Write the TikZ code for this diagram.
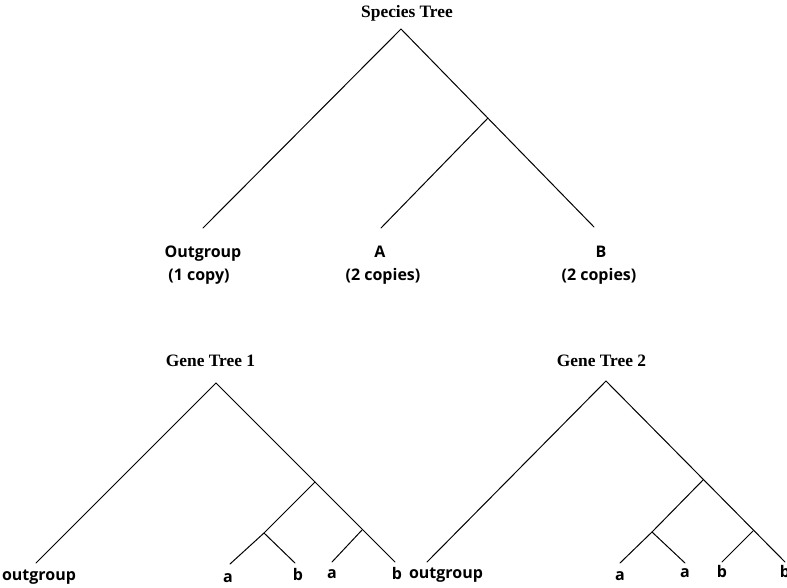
\documentclass[tikz,border=0pt]{standalone}
\usepackage{fontspec}
\setmainfont{Liberation Serif}
\newfontfamily\labfont{Open Sans}
\begin{document}
\begin{tikzpicture}[x=1pt,y=-1pt,
  branch/.style={line width=1pt,line cap=round},
  title/.style={font=\fontsize{17.4}{20}\selectfont\bfseries,anchor=base,inner sep=0pt},
  taxon/.style={font=\labfont\fontsize{16}{22}\selectfont\bfseries,anchor=base,inner sep=0pt,align=center}]
\useasboundingbox (0,0) rectangle (787,587);
% Species tree
\node[title] (st) at (407,17) {Species Tree};
\coordinate (s0) at (401,29);
\coordinate (s1) at (488,118);
\coordinate (sOut) at (203,228);
\coordinate (sA) at (381,228);
\coordinate (sB) at (594,227);
\draw[branch] (sOut) -- (s0) -- (sB);
\draw[branch] (s1) -- (sA);
\node[taxon] (lOut) at (203,257) {Outgroup};
\node[taxon] (lOutc) at (199,280) {(1 copy)};
\node[taxon] (lA) at (380,257) {A};
\node[taxon] (lAc) at (383,280) {(2 copies)};
\node[taxon] (lB) at (601,257) {B};
\node[taxon] (lBc) at (599,280) {(2 copies)};
% Gene tree 1
\node[title] (g1) at (210.5,366) {Gene Tree 1};
\coordinate (r1) at (216,383);
\coordinate (n1) at (315,482);
\coordinate (n2) at (264,533);
\coordinate (n3) at (362,530);
\coordinate (o1) at (36,563);
\coordinate (a11) at (230,564);
\coordinate (b11) at (295,563);
\coordinate (a12) at (332,562);
\coordinate (b12) at (395,562);
\draw[branch] (o1) -- (r1) -- (b12);
\draw[branch] (n1) -- (n2) -- (a11);
\draw[branch] (n2) -- (b11);
\draw[branch] (n3) -- (a12);
\node[taxon] (t1o) at (39,580) {outgroup};
\node[taxon] (t1a) at (228,582) {a};
\node[taxon] (t1b) at (298,580) {b};
\node[taxon] (t1a2) at (332,578) {a};
\node[taxon] (t1b2) at (397,579) {b};
% Gene tree 2
\node[title] (g2) at (601.5,366) {Gene Tree 2};
\coordinate (r2) at (606,381);
\coordinate (m1) at (703,480);
\coordinate (m2) at (652,532);
\coordinate (m3) at (753,531);
\coordinate (o2) at (427,562);
\coordinate (a21) at (620,563);
\coordinate (a22) at (685,563);
\coordinate (b21) at (722,562);
\coordinate (b22) at (785,562);
\draw[branch] (o2) -- (r2) -- (b22);
\draw[branch] (m1) -- (m2) -- (a21);
\draw[branch] (m2) -- (a22);
\draw[branch] (m3) -- (b21);
\node[taxon] (t2o) at (446,578) {outgroup};
\node[taxon] (t2a) at (620,580) {a};
\node[taxon] (t2a2) at (685,577) {a};
\node[taxon] (t2b) at (722,577) {b};
\node[taxon] (t2b2) at (785,577) {b};
\end{tikzpicture}
\end{document}
